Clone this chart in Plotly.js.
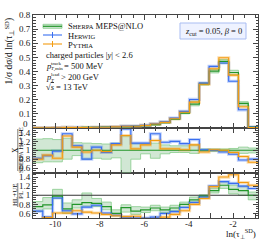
<!DOCTYPE html>
<html><head><meta charset="utf-8">
<script src="https://cdn.plot.ly/plotly-3.0.1.min.js"></script>
<style>html,body{margin:0;padding:0;background:#fff}#c{width:266px;height:240px}</style>
</head><body><div id="c"></div>
<script>
// Bin edges of ln(tau_perp^SD)
const binEdges = [-11, -10.56, -10.12, -9.68, -9.24, -8.80, -8.36, -7.92, -7.48, -7.04, -6.60, -6.16, -5.72, -5.28, -4.84, -4.40, -3.96, -3.52, -3.08, -2.64, -2.20, -1.76, -1.32, -0.88];

// Main panel: 1/sigma dsigma/dln(tau)
const sherpaMain = [0.0015,0.002,0.0025,0.003,0.0035,0.004,0.005,0.006,0.007,0.009,0.012,0.016,0.024,0.038,0.062,0.106,0.169,0.313,0.402,0.471,0.393,0.174,0.008];
const herwigMain = [0.0012,0.0018,0.0025,0.004,0.004,0.0032,0.0053,0.0057,0.008,0.013,0.014,0.019,0.03,0.044,0.07,0.118,0.202,0.318,0.436,0.46,0.331,0.129,0.006];
const pythiaMain = [0.0012,0.0018,0.002,0.004,0.0037,0.0038,0.005,0.0058,0.0078,0.012,0.0125,0.018,0.028,0.04,0.066,0.112,0.183,0.31,0.419,0.497,0.374,0.15,0.004];

// Ratio panel 1: X / Sherpa HL+UE
const sherpaBandUp1 = [1.25,1.26,1.24,1.27,1.17,1.16,1.15,1.14,1.16,1.32,1.15,1.15,1.16,1.12,1.10,1.10,1.12,1.03,1.03,1.03,1.04,1.07,1.05];
const sherpaBandLo1 = [0.72,0.74,0.74,0.80,0.88,0.80,0.82,0.80,0.83,0.50,0.80,0.92,0.82,0.92,0.95,0.95,0.93,0.97,0.97,0.97,0.96,0.93,0.94];
const sherpaRatio1 = [1,1,1,1,1,1,1,1,1,1,1,1,1,1,1,1,1,1,1,1,1,1,1];
const herwigRatio1 = [0.82,0.88,0.98,1.37,1.10,0.80,1.07,0.95,1.15,1.48,1.16,1.16,1.37,1.18,1.20,1.15,1.24,1.01,1.00,0.96,0.91,0.78,0.80];
const pythiaRatio1 = [0.80,0.89,0.82,1.32,1.07,0.96,1.00,0.97,1.12,1.33,1.03,1.12,1.22,1.03,1.03,1.01,1.12,0.96,1.01,1.00,0.95,0.86,0.73];

// Ratio panel 2: HL+UE / PL
const sherpaRatio2 = [0.75,0.79,0.98,0.70,0.80,0.84,0.82,0.75,0.60,0.73,0.65,0.68,0.72,0.68,0.72,0.80,0.90,0.98,1.10,1.22,1.13,1.10,1.00];
const sherpaBandUp2 = [0.86,0.95,1.13,0.83,0.90,1.05,0.93,0.85,0.68,0.79,0.75,0.74,0.78,0.74,0.78,0.85,0.96,1.01,1.15,1.30,1.22,1.20,1.07];
const sherpaBandLo2 = [0.64,0.70,0.93,0.60,0.72,0.76,0.75,0.68,0.55,0.63,0.58,0.62,0.66,0.62,0.66,0.74,0.85,0.93,1.05,1.15,1.03,1.00,0.90];
const herwigRatio2 = [0.65,0.52,0.94,0.66,0.59,0.74,0.78,0.61,0.56,0.52,0.50,0.50,0.52,0.60,0.64,0.73,0.84,0.96,1.20,1.30,1.26,1.20,1.15];
const pythiaRatio2 = [0.45,0.51,0.61,0.61,0.66,0.63,0.61,0.58,0.55,0.53,0.54,0.48,0.48,0.52,0.58,0.66,0.80,0.93,1.19,1.40,1.45,1.28,1.22];

const xTickVals = [-11,-10,-9,-8,-7,-6,-5,-4,-3,-2,-1];
const xTickText = ['','-10','','-8','','-6','','-4','','-2',''];
const mainTickVals = [0,0.1,0.2,0.3,0.4,0.5,0.6,0.7,0.8];
const mainTickText = ['','0.1','0.2','0.3','0.4','0.5','0.6','0.7','0.8'];
const mainZeroLabel = '0';
const ratioTickVals = [0.6,0.8,1,1.2,1.4];
const ratioTickText = ['0.6','0.8','1','1.2','1.4'];

const GREEN = '#23962a', GREENBAND = 'rgba(90,170,100,0.28)', GREENEDGE = '#86cc8a';
const BLUE = '#3a6ff0', BLUEL = 'rgba(70,120,240,0.35)';
const ORANGE = '#f39c12', ORANGEL = 'rgba(245,160,30,0.35)';
const FONT = 'Liberation Serif';

function stepY(v){ return v.concat([v[v.length-1]]); }
function line(vals, color, width, xa, ya){
  return {x: binEdges, y: stepY(vals), type:'scatter', mode:'lines', line:{shape:'hv', color:color, width:width}, xaxis:xa, yaxis:ya, hoverinfo:'skip', showlegend:false};
}
function band(lo, hi, xa, ya){
  return [
    {x: binEdges, y: stepY(lo), type:'scatter', mode:'lines', line:{shape:'hv', color:GREENEDGE, width:0.8}, xaxis:xa, yaxis:ya, showlegend:false, hoverinfo:'skip'},
    {x: binEdges, y: stepY(hi), type:'scatter', mode:'lines', fill:'tonexty', fillcolor:GREENBAND, line:{shape:'hv', color:GREENEDGE, width:0.8}, xaxis:xa, yaxis:ya, showlegend:false, hoverinfo:'skip'}
  ];
}
const mainLo = sherpaMain.map((v,i)=>v*sherpaBandLo1[i]);
const mainHi = sherpaMain.map((v,i)=>v*sherpaBandUp1[i]);

const traces = [].concat(
  band(mainLo, mainHi, 'x3', 'y3'),
  [line(herwigMain, BLUEL, 3.2, 'x3','y3'), line(pythiaMain, ORANGEL, 3.2, 'x3','y3'),
   line(sherpaMain, GREEN, 1.2, 'x3','y3'), line(herwigMain, BLUE, 1.1, 'x3','y3'), line(pythiaMain, ORANGE, 1.1, 'x3','y3')],
  band(sherpaBandLo1, sherpaBandUp1, 'x2', 'y2'),
  [line(herwigRatio1, BLUEL, 3.2, 'x2','y2'), line(pythiaRatio1, ORANGEL, 3.2, 'x2','y2'),
   line(sherpaRatio1, GREEN, 1.2, 'x2','y2'), line(herwigRatio1, BLUE, 1.1, 'x2','y2'), line(pythiaRatio1, ORANGE, 1.1, 'x2','y2')],
  band(sherpaBandLo2, sherpaBandUp2, 'x', 'y'),
  [{x:[-11,-0.88], y:[1,1], type:'scatter', mode:'lines', line:{color:'#333', width:1.2}, xaxis:'x', yaxis:'y', showlegend:false, hoverinfo:'skip'},
   line(herwigRatio2, BLUEL, 3.2, 'x','y'), line(pythiaRatio2, ORANGEL, 3.2, 'x','y'),
   line(sherpaRatio2, GREEN, 1.2, 'x','y'), line(herwigRatio2, BLUE, 1.1, 'x','y'), line(pythiaRatio2, ORANGE, 1.1, 'x','y')]
);

const W=266, H=240, L=33, R=8, T=15, B=22;
const PW = W-L-R, PH = H-T-B;
const X = px => (px-L)/PW;
const Y = py => (H-B-py)/PH;

const axCommon = {ticks:'inside', showline:true, mirror:'allticks', linecolor:'#444', linewidth:1, tickcolor:'#444', zeroline:false, showgrid:false, tickfont:{family:FONT, size:9, color:'#222'}};
function xax(anchor, labels){
  return Object.assign({}, axCommon, {range:[-11,-0.88], anchor:anchor, tickmode:'array', tickvals:xTickVals, ticktext:xTickText, ticklen:5, showticklabels:labels, ticklabelstandoff:-3,
    minor:{tickmode:'linear', tick0:-11, dtick:0.5, ticklen:2.5, ticks:'inside', tickcolor:'#444'}});
}
function rax(dom, anchor){
  return Object.assign({}, axCommon, {domain:dom, anchor:anchor, range:[0.5,1.5], tickmode:'array', tickvals:ratioTickVals, ticktext:ratioTickText, ticklen:5,
    minor:{tickmode:'linear', tick0:0.5, dtick:0.05, ticklen:2.5, ticks:'inside', tickcolor:'#444'}});
}
const d1 = 45.5/PH, d2 = 90/PH;

const ann = [];
const sh = [];
function txt(px, py, text, size, xanchor, extra){
  ann.push(Object.assign({xref:'paper', yref:'paper', x:X(px), y:Y(py), text:text, showarrow:false, xanchor:xanchor||'left', yanchor:'middle', font:{family:FONT, size:size, color:'#111'}}, extra||{}));
}
txt(29.5, 124.5, mainZeroLabel, 9, 'right', {font:{family:FONT, size:9, color:'#222'}});
txt(9, 16, '1/σ dσ/d ln(τ<sub>⊥</sub><sup>SD</sup>)', 9.5, 'center', {textangle:-90, yanchor:'top'});
txt(15, 150, 'X', 7.5, 'center', {textangle:-90});
sh.push({type:'line', xref:'paper', yref:'paper', x0:X(17.8), x1:X(17.8), y0:Y(129), y1:Y(171), line:{color:'#222', width:0.6}});
txt(21, 150, 'S<span style="font-size:5.5px">HERPA</span> HL+UE', 7, 'center', {textangle:-90});
txt(15, 195, 'HL+UE', 7, 'center', {textangle:-90});
sh.push({type:'line', xref:'paper', yref:'paper', x0:X(17.8), x1:X(17.8), y0:Y(183), y1:Y(207), line:{color:'#222', width:0.6}});
txt(21, 195, 'PL', 7, 'center', {textangle:-90});
txt(258, 234, 'ln(τ<sub>⊥</sub><sup>SD</sup>)', 9, 'right');

// legend
sh.push({type:'rect', xref:'paper', yref:'paper', x0:X(43), x1:X(62), y0:Y(28.3), y1:Y(24.3), fillcolor:GREENBAND, line:{color:GREENEDGE, width:0.8}});
sh.push({type:'line', xref:'paper', yref:'paper', x0:X(43), x1:X(62), y0:Y(26.3), y1:Y(26.3), line:{color:GREEN, width:1.2}});
[[35, BLUE],[44, ORANGE]].forEach(([py,c])=>{
  sh.push({type:'line', xref:'paper', yref:'paper', x0:X(43), x1:X(62), y0:Y(py), y1:Y(py), line:{color:c, width:1.1}});
  sh.push({type:'line', xref:'paper', yref:'paper', x0:X(52.5), x1:X(52.5), y0:Y(py-3), y1:Y(py+3), line:{color:c, width:1}});
});
txt(66, 26.5, 'S<span style="font-size:6.5px">HERPA</span> MEPS@NLO', 8.5);
txt(66, 35.5, 'H<span style="font-size:6.5px">ERWIG</span>', 8.5);
txt(66, 44.5, 'P<span style="font-size:6.5px">YTHIA</span>', 8.5);

txt(44, 55, 'charged particles |<i>y</i>| &lt; 2.6', 8.5);
txt(44, 66, '<i>p</i>', 8.5);
txt(48.5, 63, 'track', 5);
txt(48.5, 69, '<i>T</i>,min', 5);
txt(62, 66, '= 500 MeV', 8.5);
txt(44, 77, '<i>p</i>', 8.5);
txt(48.5, 74, 'lead', 5);
txt(48.5, 80, '<i>T</i>', 5);
txt(59, 77, '&gt; 200 GeV', 8.5);
txt(44, 87.5, '√<span style="text-decoration:overline"><i>s</i></span> = 13 TeV', 8.5);

sh.push({type:'rect', xref:'paper', yref:'paper', x0:X(180), x1:X(246), y0:Y(39), y1:Y(23), fillcolor:'#eef2ff', line:{color:'#a9bdf2', width:1}});
txt(213, 31, '<i>z</i><sub>cut</sub> = 0.05, <i>β</i> = 0', 8.5, 'center');

const layout = {
  width:W, height:H, margin:{l:L, r:R, t:T, b:B, pad:0},
  paper_bgcolor:'#fff', plot_bgcolor:'rgba(0,0,0,0)', showlegend:false,
  font:{family:FONT, size:9, color:'#222'},
  xaxis: xax('y', true),
  xaxis2: xax('y2', false),
  xaxis3: xax('y3', false),
  yaxis: rax([0, d1], 'x'),
  yaxis2: rax([d1, d2], 'x2'),
  yaxis3: Object.assign({}, axCommon, {domain:[d2,1], anchor:'x3', range:[0,0.8], tickmode:'array', tickvals:mainTickVals, ticktext:mainTickText, ticklen:5,
    minor:{tickmode:'linear', tick0:0, dtick:0.02, ticklen:2.5, ticks:'inside', tickcolor:'#444'}}),
  annotations: ann, shapes: sh
};
Plotly.newPlot('c', traces, layout, {staticPlot:true, displayModeBar:false});
</script></body></html>
